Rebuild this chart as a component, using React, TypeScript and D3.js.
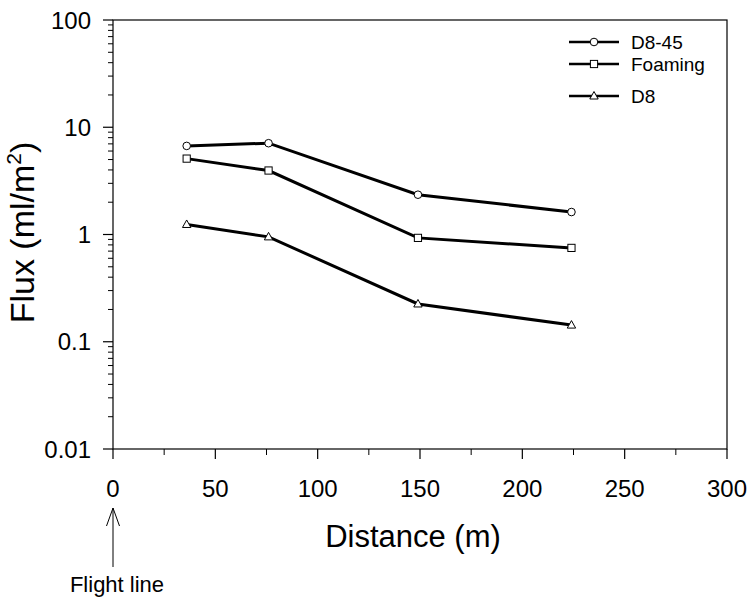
import * as d3 from 'd3';

// dados
const distancias = [36, 76, 149, 224];
const d845 = [6.7, 7.1, 2.35, 1.62];
const foaming = [5.1, 3.95, 0.93, 0.75];
const d8 = [1.24, 0.95, 0.225, 0.143];
const seriesNomes = ['D8-45', 'Foaming', 'D8'];
const marcadores = ['circle', 'square', 'triangle'];
const xTicks = [0, 50, 100, 150, 200, 250, 300];
const yTicks = [0.01, 0.1, 1, 10, 100];

const W = 751;
const H = 600;
const margin = { left: 113, right: 24, top: 20, bottom: 151 };
const font = 'Liberation Sans, Arial, Helvetica, sans-serif';

const Marker = ({ tipo, x, y }: { tipo: string; x: number; y: number }) => {
  if (tipo === 'circle')
    return <circle cx={x} cy={y} r={3.8} fill="white" stroke="black" strokeWidth={1} />;
  if (tipo === 'square')
    return <rect x={x - 3.6} y={y - 3.6} width={7.2} height={7.2} fill="white" stroke="black" strokeWidth={1} />;
  return (
    <polygon
      points={`${x},${y - 4.5} ${x + 4.2},${y + 3} ${x - 4.2},${y + 3}`}
      fill="white"
      stroke="black"
      strokeWidth={1}
    />
  );
};

const App = () => {
  const x = d3.scaleLinear().domain([0, 300]).range([margin.left, W - margin.right]);
  const y = d3.scaleLog().domain([0.01, 100]).range([H - margin.bottom, margin.top]);

  const dados = [d845, foaming, d8];
  const linha = d3
    .line<[number, number]>()
    .x((d) => x(d[0]))
    .y((d) => y(d[1]));

  const yMinor = y.ticks().filter((t) => !yTicks.some((m) => Math.abs(m - t) < 1e-9));
  const xMinor = d3.range(25, 300, 50);

  const x0 = x(0);
  const x1 = x(300);
  const y0 = y(0.01);
  const y1 = y(100);

  return (
    <svg width={W} height={H} style={{ position: 'absolute', left: 0, top: 0, background: 'white' }}>
      {/* moldura */}
      <rect x={x0} y={y1} width={x1 - x0} height={y0 - y1} fill="none" stroke="black" strokeWidth={1.2} />

      {/* eixo y */}
      {yTicks.map((t) => (
        <g key={'y' + t}>
          <line x1={x0 - 10} x2={x0} y1={y(t)} y2={y(t)} stroke="black" strokeWidth={1.2} />
          <text x={x0 - 22} y={y(t)} dy="0.36em" textAnchor="end" fontSize={24} fontFamily={font}>
            {t}
          </text>
        </g>
      ))}
      {yMinor.map((t, i) => (
        <line key={'ym' + i} x1={x0 - 5} x2={x0} y1={y(t)} y2={y(t)} stroke="black" strokeWidth={1} />
      ))}

      {/* eixo x */}
      {xTicks.map((t) => (
        <g key={'x' + t}>
          <line x1={x(t)} x2={x(t)} y1={y0} y2={y0 + 10} stroke="black" strokeWidth={1.2} />
          <text x={x(t)} y={y0 + 48} textAnchor="middle" fontSize={24} fontFamily={font}>
            {t}
          </text>
        </g>
      ))}
      {xMinor.map((t) => (
        <line key={'xm' + t} x1={x(t)} x2={x(t)} y1={y0} y2={y0 + 6} stroke="black" strokeWidth={1} />
      ))}

      {/* rótulos */}
      <text x={413} y={547} textAnchor="middle" fontSize={31} fontFamily={font}>
        Distance (m)
      </text>
      <text
        transform={`translate(34, ${(y0 + y1) / 2 - 2}) rotate(-90)`}
        textAnchor="middle"
        fontSize={34}
        fontFamily={font}
      >
        Flux (ml/m<tspan dy={-13} fontSize={21}>2</tspan>
        <tspan dy={13}>)</tspan>
      </text>

      {/* seta da linha de voo */}
      <line x1={x0} x2={x0} y1={567} y2={508} stroke="black" strokeWidth={1} />
      <polyline
        points={`${x0 - 6.5},${526} ${x0},${508} ${x0 + 6.5},${526}`}
        fill="none"
        stroke="black"
        strokeWidth={1}
      />
      <text x={x0 + 4} y={592} textAnchor="middle" fontSize={22} fontFamily={font}>
        Flight line
      </text>

      {/* séries */}
      {dados.map((serie, s) => {
        const pts = distancias.map((d, i) => [d, serie[i]] as [number, number]);
        return (
          <g key={'s' + s}>
            <path d={linha(pts) || ''} fill="none" stroke="black" strokeWidth={3} />
            {pts.map((p, i) => (
              <Marker key={i} tipo={marcadores[s]} x={x(p[0])} y={y(p[1])} />
            ))}
          </g>
        );
      })}

      {/* legenda */}
      {seriesNomes.map((nome, i) => {
        const ly = [42, 64, 96][i];
        return (
          <g key={'l' + nome}>
            <line x1={569} x2={619} y1={ly} y2={ly} stroke="black" strokeWidth={2.5} />
            <Marker tipo={marcadores[i]} x={594} y={ly} />
            <text x={631} y={ly} dy="0.36em" fontSize={19} fontFamily={font}>
              {nome}
            </text>
          </g>
        );
      })}
    </svg>
  );
};

export default App;
